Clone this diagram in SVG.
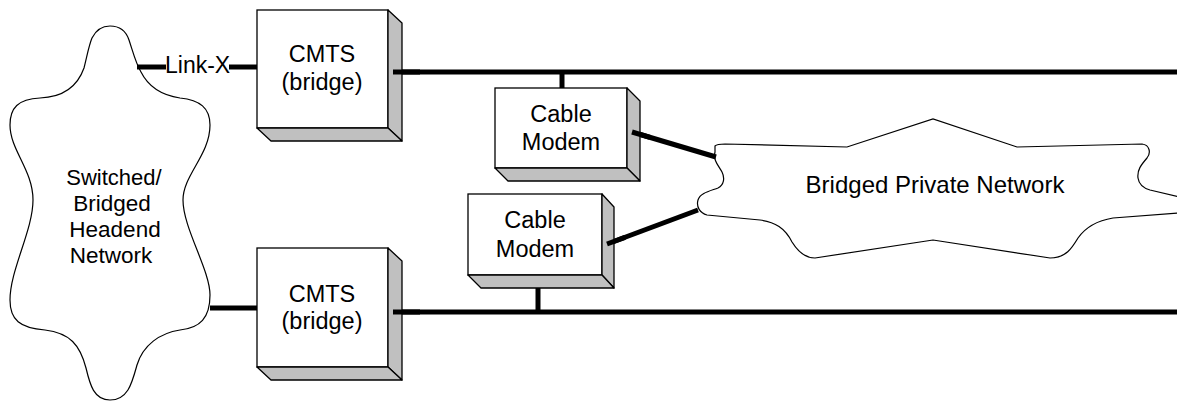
<svg xmlns="http://www.w3.org/2000/svg" width="1177" height="401" viewBox="0 0 1177 401">
<style>
text{font-family:"Liberation Sans",Arial,sans-serif;font-size:23.5px;fill:#000}
.mid{text-anchor:middle}
.front{fill:#fff;stroke:#000;stroke-width:1.3}
.side{fill:#c0c0c0;stroke:#000;stroke-width:1.3;stroke-linejoin:round}
.cloud{fill:#fff;stroke:#000;stroke-width:1.2}
.link{fill:none;stroke:#000;stroke-width:5;stroke-linecap:butt}
</style>
<rect width="1177" height="401" fill="#fff"/>

<g id="headend">
<path class="cloud" d="M110,26 C119,26 126,31 129,40 C133,52 136,64 141,72 C148,86 160,95 180,98 C200,100 210,108 210,125 C210,155 183,175 183,200 C183,228 210,270 210,295 C210,318 200,328 180,330 C160,333 143,345 137,365 C132,383 128,400 110,400 C94,400 90,385 86,368 C80,345 70,333 45,330 C20,328 10,320 10,300 C10,270 33,230 33,200 C33,170 10,150 10,125 C10,108 18,99 40,98 C65,97 78,85 84,68 C87,56 89,45 92,38 C96,30 102,26 110,26 Z"/>
<text class="mid" x="114" y="185" style="font-size:22px">Switched/</text>
<text class="mid" x="112" y="211" style="font-size:22.5px">Bridged</text>
<text class="mid" x="115" y="237" style="font-size:22.5px">Headend</text>
<text class="mid" x="111" y="263" style="font-size:22.5px">Network</text>
</g>

<g id="private-network">
<path class="cloud" d="M715,146 C717,144 720,144 725,144 L847,147 L933,119 L1017,147 L1142,144 C1150,145 1151,153 1147,158 C1141,165 1137,170 1138,178 C1139,185 1143,188 1150,190 L1180,197 L1180,213 L1113,218 C1095,221 1085,228 1078,238 C1072,248 1066,258 1050,258 L933,240 L815,258 C805,258 797,250 792,242 C785,228 775,222 760,220 L707,215 C700,213 696,207 698,200 C700,193 710,191 718,188 C724,185 725,178 722,172 C718,165 713,160 715,152 Z"/>
<text class="mid" x="935" y="193" style="font-size:24px">Bridged Private Network</text>
</g>

<g id="connectors">
<line class="link" x1="137" y1="67" x2="166" y2="67"/>
<line class="link" x1="229" y1="67" x2="258" y2="67"/>
<line class="link" x1="210" y1="308" x2="258" y2="308"/>
<line class="link" x1="393" y1="72" x2="1177" y2="72" stroke-linecap="round"/>
<line class="link" x1="393" y1="312" x2="1177" y2="312" stroke-linecap="round"/>
<line class="link" x1="562" y1="72" x2="562" y2="89"/>
<line class="link" x1="538" y1="312" x2="538" y2="275"/>
<line class="link" x1="632" y1="132" x2="716" y2="157"/>
<line class="link" x1="607" y1="244" x2="698" y2="210"/>
</g>
<text x="165" y="73" style="font-size:23px">Link-X</text>

<g id="cmts-top">
<rect class="front" x="257" y="10" width="131" height="118"/>
<polygon class="side" points="388,10 402,23 402,141 388,128"/>
<polygon class="side" points="257,128 388,128 402,141 271,141"/>
<text class="mid" x="322" y="62">CMTS</text>
<text class="mid" x="322" y="90">(bridge)</text>
</g>

<g id="cmts-bottom">
<rect class="front" x="257" y="248" width="131" height="119"/>
<polygon class="side" points="388,248 402,261 402,380 388,367"/>
<polygon class="side" points="257,367 388,367 402,380 271,380"/>
<text class="mid" x="322" y="302">CMTS</text>
<text class="mid" x="322" y="329">(bridge)</text>
</g>

<g id="modem-top">
<rect class="front" x="495" y="88" width="132" height="80"/>
<polygon class="side" points="627,88 640,101 640,181 627,168"/>
<polygon class="side" points="495,168 627,168 640,181 508,181"/>
<text class="mid" x="561" y="122">Cable</text>
<text class="mid" x="561" y="150">Modem</text>
</g>

<g id="modem-bottom">
<rect class="front" x="468" y="194" width="134" height="81"/>
<polygon class="side" points="602,194 614,207 614,288 602,275"/>
<polygon class="side" points="468,275 602,275 614,288 481,288"/>
<text class="mid" x="535" y="228">Cable</text>
<text class="mid" x="535" y="257">Modem</text>
</g>

<g id="connector-overlays">
<line class="link" x1="393" y1="72" x2="420" y2="72" stroke-linecap="round"/>
<line class="link" x1="393" y1="312" x2="420" y2="312" stroke-linecap="round"/>
<line class="link" x1="632" y1="132" x2="650" y2="137.4"/>
<line class="link" x1="607" y1="244" x2="625" y2="237.3"/>
</g>
</svg>
